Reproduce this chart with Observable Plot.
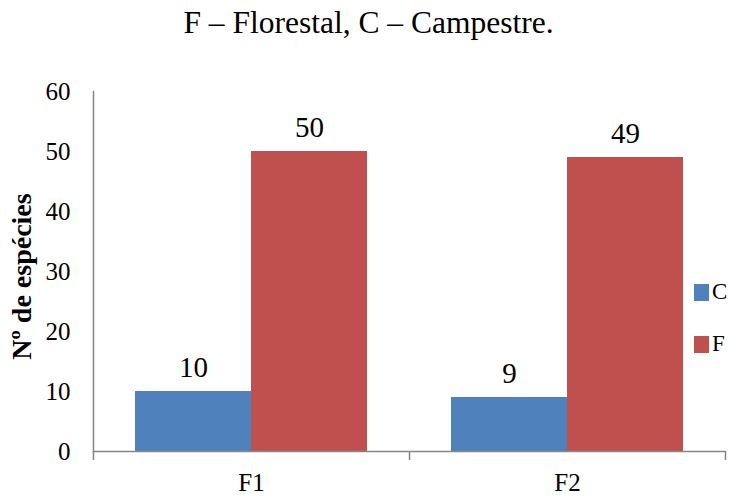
<!DOCTYPE html>
<html>
<head>
<meta charset="utf-8">
<script src="https://cdn.jsdelivr.net/npm/d3@7"></script>
<script src="https://cdn.jsdelivr.net/npm/@observablehq/plot@0.6"></script>
<style>
  html, body { margin: 0; padding: 0; background: white; }
  #wrap { position: relative; width: 729px; height: 497px; font-family: 'Liberation Serif', 'Times New Roman', serif; }
  #title { height: 60px; box-sizing: border-box; padding-top: 7px; padding-left: 8px; font-size: 31.5px; line-height: 1; text-align: center; color: #000; white-space: nowrap; }
  #legend { position: absolute; left: 694px; top: 266px; }
  .row { display: flex; align-items: center; height: 52px; font-size: 23px; color: #000; }
  .sw { width: 15px; height: 17px; margin-right: 3px; }
  #chart svg text { font-family: 'Liberation Serif', 'Times New Roman', serif !important; }
</style>
</head>
<body>
<div id="wrap">
  <div id="title"></div>
  <div id="chart"></div>
  <div id="legend"></div>
</div>
<script>
const titleText = "F – Florestal, C – Campestre.";
const yLabel = "Nº de espécies";
const categories = ["F1", "F2"];
const series = ["C", "F"];
const valuesC = [10, 9];
const valuesF = [50, 49];
const yTicks = [0, 10, 20, 30, 40, 50, 60];
const colors = ["#4F81BD", "#C0504D"];

const data = categories.flatMap((cat, i) => [
  {cat, series: series[0], value: valuesC[i]},
  {cat, series: series[1], value: valuesF[i]}
]);

document.getElementById("title").textContent = titleText;

const W = 729, H = 437, ML = 93, MR = 4, MT = 31, MB = 46;
const halfBand = (W - ML - MR) / categories.length / 2;
const axisColor = "#868686";
const serif = "'Liberation Serif', 'Times New Roman', serif";

const plot = Plot.plot({
  width: W, height: H,
  marginLeft: ML, marginRight: MR, marginTop: MT, marginBottom: MB,
  style: {fontFamily: serif, background: "white", color: "black"},
  fx: {domain: categories, padding: 0},
  x: {domain: series, paddingInner: 0, paddingOuter: 0.362, axis: null},
  y: {domain: [0, 60], axis: null},
  color: {domain: series, range: colors},
  marks: [
    Plot.barY(data, {fx: "cat", x: "series", y: "value", fill: "series"}),
    Plot.ruleY([0], {stroke: axisColor, strokeWidth: 1.5}),
    Plot.frame({anchor: "left", facetAnchor: "left", stroke: axisColor, strokeWidth: 1.5}),
    Plot.axisY({ticks: yTicks, tickSize: 0, tickPadding: 23, fontSize: 25, fontFamily: serif, tickFormat: d => String(d), label: null}),
    Plot.axisFx({anchor: "bottom", tickSize: 0, tickPadding: 22, fontSize: 25, fontFamily: serif, label: null}),
    Plot.axisFx({anchor: "bottom", tickSize: 9, fill: "none", stroke: axisColor, strokeWidth: 1.5, dx: -halfBand, label: null}),
    Plot.axisFx({anchor: "bottom", ticks: [categories[categories.length - 1]], tickSize: 9, fill: "none", stroke: axisColor, strokeWidth: 1.5, dx: halfBand, label: null}),
    Plot.text(data, {fx: "cat", x: "series", y: "value", text: d => String(d.value), lineAnchor: "bottom", dy: -15, fontSize: 29, fontFamily: serif, fill: "black"}),
    Plot.text([yLabel], {frameAnchor: "left", facetAnchor: "left", rotate: -90, textAnchor: "middle", dx: -71, dy: 5, fontSize: 28, fontFamily: serif, fontWeight: "bold", fill: "black"})
  ]
});
document.getElementById("chart").appendChild(plot);

const legend = d3.select("#legend");
series.forEach((s, i) => {
  const row = legend.append("div").attr("class", "row");
  row.append("div").attr("class", "sw").style("background", colors[i]);
  row.append("span").text(s);
});
</script>
</body>
</html>
